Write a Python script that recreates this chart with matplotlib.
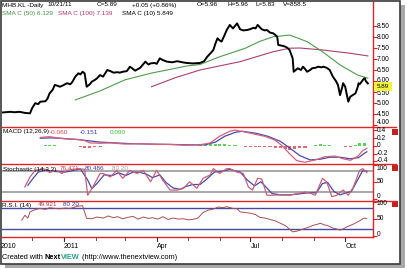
import numpy as np
import matplotlib
matplotlib.use("Agg")
import matplotlib.pyplot as plt
from matplotlib.patches import Rectangle
from matplotlib.lines import Line2D

plt.rcParams['font.family'] = ['Liberation Sans', 'DejaVu Sans']

W, H = 407, 269

# ---------------- data (x = days from 2011-01-01) ----------------
price_day = [-62, -57, -52, -48, -43, -38, -33, -31, -28, -25, -23, -18, -16, -14, -11, -9, -6, -4, -1, 3, 6, 8,
             11, 14, 16, 18, 20, 22, 25, 27, 30, 32, 35, 38, 42, 45, 48, 52, 54, 57, 61, 64, 67, 69, 74, 79, 82,
             84, 88, 90, 93, 96, 100, 105, 110, 115, 119, 125, 132, 136, 139, 142, 145, 147, 149, 151, 153, 156,
             158, 161, 164, 166, 168, 171, 174, 178, 181, 184, 186, 188, 192, 195, 197, 200, 203, 205, 207, 208,
             212, 215, 217, 219, 222, 223, 225, 227, 230, 232, 234, 236, 239, 241, 244, 247, 250, 252, 255, 258,
             261, 264, 266, 268, 270, 271, 273, 275, 276, 278, 280, 283, 285, 286, 287, 289, 291, 292, 293, 295]
price_close = [4.56, 4.58, 4.60, 4.58, 4.60, 4.55, 4.53, 4.76, 4.99, 4.95, 5.06, 5.08, 5.20, 5.44, 5.60, 5.82,
               5.78, 5.74, 5.80, 5.90, 5.85, 5.95, 6.20, 6.35, 6.30, 6.42, 6.35, 5.74, 5.85, 5.97, 6.05, 6.12,
               6.27, 6.20, 6.50, 6.45, 6.38, 6.40, 6.38, 6.42, 6.45, 6.65, 6.55, 6.47, 6.60, 6.88, 6.75, 6.80,
               6.82, 6.78, 7.03, 6.95, 6.88, 6.85, 6.90, 6.85, 6.82, 6.80, 6.82, 6.90, 7.10, 7.25, 7.41, 7.70,
               7.94, 7.85, 7.79, 8.10, 8.32, 8.55, 8.39, 8.50, 8.62, 8.35, 8.30, 8.32, 8.36, 8.42, 8.39, 8.55,
               8.35, 8.30, 8.32, 8.20, 8.17, 8.10, 8.01, 7.64, 7.60, 7.56, 7.50, 7.41, 7.03, 6.42, 6.50, 6.58,
               6.50, 6.65, 6.55, 6.42, 6.50, 6.58, 6.60, 6.65, 6.62, 6.65, 6.60, 6.50, 6.20, 6.00, 5.82, 5.36,
               5.70, 5.90, 5.74, 5.30, 5.06, 5.29, 5.35, 5.44, 5.70, 5.90, 5.85, 5.97, 6.10, 6.12, 6.00, 5.89]

sma50_day = [11, 35, 59, 84, 119, 132, 151, 171, 176, 190, 203, 219, 236, 251, 268, 285, 295]
sma50_val = [5.14, 5.55, 6.05, 6.35, 6.68, 6.75, 7.10, 7.41, 7.49, 7.80, 8.01, 8.09, 7.79, 7.33, 6.73, 6.27, 6.13]

sma100_day = [85, 108, 132, 171, 176, 203, 219, 229, 251, 278, 295]
sma100_val = [5.74, 6.15, 6.50, 6.88, 6.95, 7.33, 7.49, 7.50, 7.41, 7.26, 7.14]

macd_day = [-23, -14, -4, 3, 13, 20, 25, 35, 45, 59, 74, 88, 103, 118, 132, 142, 151, 161, 166, 176, 186,
            195, 205, 212, 219, 226, 234, 244, 253, 263, 271, 278, 285, 290, 294]
macd_val = [0.22, 0.24, 0.20, 0.18, 0.17, 0.14, 0.08, 0.07, 0.08, 0.05, 0.06, 0.04, 0.04, 0.02, 0.03, 0.08,
            0.25, 0.38, 0.41, 0.36, 0.30, 0.25, 0.15, 0.0, -0.20, -0.38, -0.42, -0.36, -0.28, -0.26, -0.33,
            -0.37, -0.27, -0.12, -0.06]

signal_day = [-23, -14, -4, 6, 16, 25, 35, 50, 64, 84, 103, 122, 137, 147, 156, 166, 173, 186, 198, 210, 219,
              229, 239, 249, 258, 268, 278, 286, 291, 294]
signal_val = [0.20, 0.21, 0.20, 0.18, 0.16, 0.13, 0.10, 0.08, 0.06, 0.05, 0.04, 0.03, 0.03, 0.10, 0.25, 0.35,
              0.38, 0.33, 0.25, 0.12, -0.05, -0.25, -0.36, -0.34, -0.29, -0.29, -0.33, -0.30, -0.20, -0.15]

hist_day = [-18, -14, -9, -4, 1, 6, 11, 16, 20, 25, 30, 35, 40, 45, 50, 54, 59, 64, 69, 74, 79, 84, 88, 93,
            98, 103, 108, 113, 118, 122, 127, 132, 137, 142, 147, 151, 156, 161, 166, 171, 176, 181, 186, 190,
            195, 200, 205, 210, 215, 219, 224, 229, 234, 239, 244, 249, 253, 258, 263, 268, 273, 278, 283,
            287, 292]
hist_val = [0.02, 0.03, 0.02, 0.0, -0.01, -0.01, 0.0, -0.02, -0.04, -0.05, -0.03, -0.02, 0.0, 0.01, -0.01,
            0.0, -0.01, 0.01, 0.01, 0.0, -0.01, 0.01, -0.01, 0.01, 0.0, -0.01, -0.01, 0.0, -0.01, 0.0, 0.01,
            0.02, 0.03, 0.05, 0.06, 0.05, 0.04, 0.03, 0.02, -0.01, -0.02, -0.03, -0.03, -0.03, -0.02, -0.03,
            -0.04, -0.06, -0.08, -0.10, -0.09, -0.06, -0.04, 0.0, 0.02, 0.04, 0.03, 0.02, 0.01, -0.01, -0.03,
            -0.02, 0.03, 0.07, 0.09]

stk_day = [-38, -33, -28, -20, -14, -7, -2, 3, 13, 20, 23, 28, 35, 38, 45, 51, 57, 64, 71, 77, 84, 90, 96,
           103, 110, 116, 122, 129, 135, 142, 145, 151, 158, 161, 168, 174, 179, 183, 188, 192, 197, 203, 210,
           219, 229, 234, 239, 244, 251, 255, 260, 265, 271, 276, 281, 287, 290, 294]
stk_val = [35, 64, 83, 88, 77, 83, 74, 83, 88, 86, 11, 35, 74, 74, 64, 83, 60, 83, 74, 83, 50, 83, 54, 26, 26,
           31, 50, 31, 60, 70, 88, 74, 88, 88, 78, 74, 35, 26, 60, 58, 11, 11, 12, 11, 17, 20, 17, 11, 60, 50,
           7, 11, 26, 11, 35, 83, 88, 76.5]

std_day = [-35, -30, -25, -17, -11, -4, 1, 8, 16, 23, 27, 32, 39, 47, 53, 60, 67, 74, 80, 86, 93, 99, 106,
           113, 118, 125, 132, 138, 146, 153, 161, 171, 178, 185, 191, 196, 202, 210, 219, 229, 237, 245, 251,
           256, 262, 268, 274, 279, 285, 290, 294]
std_val = [40, 60, 78, 85, 80, 79, 78, 82, 87, 55, 30, 45, 70, 68, 76, 68, 78, 77, 72, 62, 70, 48, 32, 28, 36,
           42, 42, 56, 78, 80, 86, 78, 55, 38, 50, 35, 16, 12, 12, 15, 18, 18, 45, 48, 22, 12, 18, 22, 55, 82,
           80.5]

rsi_day = [-41, -38, -35, -33, -30, -26, -23, -18, -14, -9, -4, 1, 6, 13, 18, 22, 27, 32, 38, 43, 48, 52, 57,
           62, 67, 72, 77, 82, 86, 91, 96, 101, 106, 111, 116, 120, 125, 130, 135, 140, 145, 150, 154, 158,
           164, 168, 171, 176, 181, 186, 190, 195, 200, 205, 210, 215, 219, 222, 226, 229, 234, 239, 242, 246,
           249, 252, 256, 261, 265, 268, 272, 275, 279, 282, 285, 287, 290, 292, 294]
rsi_val = [46, 60, 52, 70, 74, 78, 80, 77, 82, 80, 79, 81, 80, 86, 88, 51, 50, 55, 52, 58, 53, 56, 50, 54, 57,
           49, 55, 51, 53, 49, 56, 48, 52, 49, 50, 47, 48, 52, 68, 75, 78, 84, 82, 85, 80, 79, 70, 68, 66, 62,
           54, 52, 48, 44, 37, 30, 20, 12, 14, 17, 22, 27, 31, 34, 37, 33, 30, 23, 20, 17, 22, 27, 32, 36, 41,
           44, 50, 52, 50]

price_ticks = [8.5, 8.0, 7.5, 7.0, 6.5, 6.0, 5.5, 5.0, 4.5, 4.0]
macd_ticks = [0.4, 0.2, 0.0, -0.2, -0.4]
osc_ticks = [100, 50, 0]
x_labels = ['2010', '2011', 'Apr', 'Jul', 'Oct']
x_label_days = [-62, 0, 90, 181, 273]
month_days = [-31, 31, 59, 120, 151, 212, 243]
last_close_label = "5.89"

# ---------------- figure ----------------
fig = plt.figure(figsize=(W / 100, H / 100), dpi=100)
fig.patch.set_facecolor('white')

RED = '#e02424'
XL = (-60.2, 300)
AX_L, AX_R = 2, 373
TICK_FS = 4.8
LAB_FS = 4.6


def fx(x):
    return x / W


def fy(y):
    return 1 - y / H


def ftext(x, y, s, color='black', size=LAB_FS, **kw):
    return fig.text(fx(x), fy(y), s, color=color, fontsize=size, va='center', ha='left', **kw)


def make_ax(top, bottom, ylim, ticks, fmt, nudge):
    ax = fig.add_axes([AX_L / W, 1 - bottom / H, (AX_R - AX_L) / W, (bottom - top) / H])
    ax.set_xlim(*XL)
    ax.set_ylim(*ylim)
    ax.set_facecolor('none')
    for s in ['top', 'left', 'bottom']:
        ax.spines[s].set_visible(False)
    ax.spines['right'].set_color(RED)
    ax.spines['right'].set_linewidth(1.0)
    ax.yaxis.tick_right()
    ax.set_yticks(ticks)
    ax.tick_params(axis='y', colors=RED, length=3, width=0.8, labelright=False)
    ax.set_xticks([])
    # tick labels as text, placed at the tick's pixel height (with small nudges at panel edges)
    for t, dn in zip(ticks, nudge):
        frac = (t - ylim[0]) / (ylim[1] - ylim[0])
        ypix = bottom - frac * (bottom - top) + dn
        ftext(AX_R + 4, ypix, fmt(t), size=TICK_FS)
    return ax


ax_p = make_ax(2, 126.5, (3.932, 9.591), price_ticks, lambda t: f"{t:.2f}",
               [0, 0, 0, 0, 0, -1.0, 1.8, 0, 0, -2.5])
ax_m = make_ax(126.5, 163.5, (-0.452, 0.503), macd_ticks, lambda t: "0" if t == 0 else f"{t:.1f}",
               [0.5, 0, 0, 0, -0.8])
ax_s = make_ax(163.5, 200.5, (-4.3, 102.9), osc_ticks, lambda t: f"{t:d}", [3.5, 0, -2.8])
ax_r = make_ax(200.5, 237, (-2.9, 102.9), osc_ticks, lambda t: f"{t:d}", [2.2, 0, -1.5])

# price panel
ax_p.plot(sma100_day, sma100_val, color='#a8406a', lw=0.8)
ax_p.plot(sma50_day, sma50_val, color='#4f9a4f', lw=0.8)
ax_p.plot(price_day, price_close, color='black', lw=1.4)

# MACD
cols = ['#5ccf5c' if v >= 0 else '#e26a6a' for v in hist_val]
ax_m.bar(hist_day, hist_val, width=3.0, color=cols, linewidth=0)
ax_m.plot(signal_day, signal_val, color='#4848a8', lw=0.9)
ax_m.plot(macd_day, macd_val, color='#d8607a', lw=0.9)

# Stochastic
for lv in (80, 20):
    ax_s.axhline(lv, color='#a8a8a8', lw=1.4)
ax_s.plot(std_day, std_val, color='#4848a8', lw=0.9)
ax_s.plot(stk_day, stk_val, color='#c8607a', lw=0.9)

# RSI
for lv in (80, 20):
    ax_r.axhline(lv, color='#4848a8', lw=1.0)
ax_r.plot(rsi_day, rsi_val, color='#a85050', lw=0.7)


def hline(x0, x1, y, color=RED, lw=1.0):
    fig.add_artist(Line2D([fx(x0), fx(x1)], [fy(y), fy(y)], transform=fig.transFigure, color=color, lw=lw))


# panel separators
for yy in (126.5, 163.5, 200.5):
    hline(2, 396, yy)
hline(2, 373, 237)

# x axis ticks and labels (bottom)
for d, lab in zip(x_label_days, x_labels):
    xp = AX_L + (d - XL[0]) / (XL[1] - XL[0]) * (AX_R - AX_L)
    if d >= XL[0]:
        fig.add_artist(Line2D([fx(xp), fx(xp)], [fy(237.5), fy(241)], transform=fig.transFigure,
                              color='#333333', lw=0.8))
    ftext(max(xp, 0.5), 246, lab, size=5.0)
for d in month_days:
    xp = AX_L + (d - XL[0]) / (XL[1] - XL[0]) * (AX_R - AX_L)
    fig.add_artist(Line2D([fx(xp), fx(xp)], [fy(237.5), fy(239.5)], transform=fig.transFigure,
                          color='#555555', lw=0.7))

# title lines
ftext(2, 5, "MHB.KL -Daily")
ftext(47, 5, "10/21/11")
ftext(97, 5, "C=5.89")
ftext(132, 5, "+0.05 (+0.86%)")
ftext(197, 5, "O=5.96")
ftext(227, 5, "H=5.96")
ftext(255, 5, "L=5.83")
ftext(283, 5, "V=858.5")
ftext(2, 14, "SMA C (50) 6.129", color='#3f8f3f')
ftext(58, 14, "SMA C (100) 7.139", color='#b03468')
ftext(122, 14, "SMA C (10) 5.849")

# panel labels
ftext(3, 132, "MACD (12,26,9)")
ftext(50, 132, "-0.060", color='#d84050')
ftext(80, 132, "-0.151", color='#3838b0')
ftext(110, 132, "0.090", color='#30c030')
ftext(3, 169, "Stochastic (14,3,3)")
ftext(60, 169, "76.471", color='#d84050')
ftext(85, 169, "80.486", color='#3838b0')
ftext(112, 169, "80 20", color='#a0a0a0')
ftext(2, 205, "R.S.I. (14)")
ftext(38, 205, "49.921", color='#c03040')
ftext(63, 205, "80 20", color='#3838b0')

# last price marker
fig.add_artist(Rectangle((fx(374), fy(91.3)), (392 - 374) / W, 9 / H, transform=fig.transFigure,
                         facecolor='#f4f43c', edgecolor='none', zorder=5))
ftext(377, 86.8, last_close_label, size=4.5, zorder=6)

# small red boxes at the right
for yy in (131.5, 167.5, 203.5):
    fig.add_artist(Rectangle((fx(392), fy(yy + 3)), 6 / W, 6 / H, transform=fig.transFigure,
                             facecolor='#c42020', edgecolor='none'))

# credit line
rend = fig.canvas.get_renderer()
x0 = 2
parts = [("Created with ", 'black', 'normal'), ("Next", 'black', 'bold'), ("VIEW", '#2c9c8c', 'bold'),
         (" (http://www.thenextview.com)", 'black', 'normal')]
for s, c, wgt in parts:
    t = ftext(x0, 257.5, s, color=c, size=5.3, weight=wgt)
    bb = t.get_window_extent(renderer=rend)
    x0 += bb.width

# frame with shadow
fig.add_artist(Rectangle((fx(400), fy(268)), 5 / W, 263 / H, transform=fig.transFigure,
                         facecolor='#a8a8a8', edgecolor='none'))
fig.add_artist(Rectangle((fx(5), fy(268)), 400 / W, 4.5 / H, transform=fig.transFigure,
                         facecolor='#a8a8a8', edgecolor='none'))
fig.add_artist(Rectangle((fx(0.5), fy(263.5)), 399 / W, 263 / H, transform=fig.transFigure,
                         facecolor='none', edgecolor='#3a3a3a', lw=1.2))

fig.savefig('out.png', dpi=100, facecolor='white')
